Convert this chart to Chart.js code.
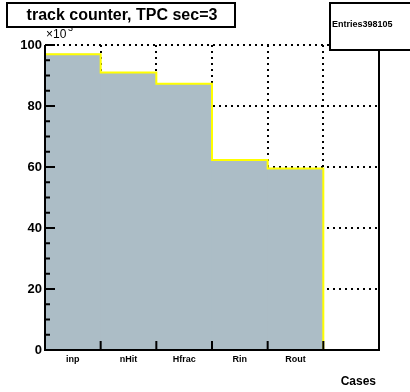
<!DOCTYPE html>
<html>
<head>
<meta charset="utf-8">
<script src="https://cdn.jsdelivr.net/npm/chart.js@4.4.1/dist/chart.umd.min.js"></script>
<style>
  body { margin: 0; background: #fff; }
  #wrap { width: 410px; height: 392px; position: relative; }
</style>
</head>
<body>
<div id="wrap"><canvas id="myChart"></canvas></div>
<script>
// 히스토그램 데이터 (단위: x10^3)
const cases = ["inp", "nHit", "Hfrac", "Rin", "Rout", ""];
const counts = [97.0, 91.0, 87.3, 62.3, 59.5, null];
const yTicks = [0, 20, 40, 60, 80, 100];
const titleText = "track counter, TPC sec=3";
const entriesText = "Entries398105";

const FONT = "'Liberation Sans', Arial, Helvetica, sans-serif";

// ROOT 스타일: 안쪽 눈금, 노란 테두리, 제목/통계 박스
const rootStyle = {
  id: "rootStyle",
  afterDatasetsDraw(chart) {
    const ctx = chart.ctx;
    const area = chart.chartArea;
    const y = chart.scales.y;
    const meta = chart.getDatasetMeta(0);

    // 노란 계단선
    ctx.save();
    ctx.strokeStyle = "#ffff00";
    ctx.lineWidth = 2;
    ctx.beginPath();
    let last = null;
    meta.data.forEach((bar, i) => {
      if (counts[i] == null) return;
      const half = bar.width / 2;
      if (!last) ctx.moveTo(bar.x - half, bar.y);
      else ctx.lineTo(bar.x - half, bar.y);
      ctx.lineTo(bar.x + half, bar.y);
      last = { r: bar.x + half, base: bar.base };
    });
    ctx.lineTo(last.r, last.base);
    ctx.stroke();

    // 프레임
    ctx.strokeStyle = "#000";
    ctx.lineWidth = 2;
    ctx.beginPath();
    ctx.moveTo(area.left, area.top);
    ctx.lineTo(area.left, area.bottom);
    ctx.lineTo(area.right, area.bottom);
    ctx.lineTo(area.right, area.top);
    ctx.stroke();

    // y 눈금 (주 20, 보조 5)
    ctx.beginPath();
    for (let v = 0; v <= 100; v += 5) {
      const py = y.getPixelForValue(v);
      const len = v % 20 === 0 ? 10 : 5;
      ctx.moveTo(area.left, py);
      ctx.lineTo(area.left + len, py);
    }
    // x 눈금 (빈 경계)
    meta.data.forEach((bar, i) => {
      if (i === 0) return;
      const bx = bar.x - bar.width / 2;
      ctx.moveTo(bx, area.bottom);
      ctx.lineTo(bx, area.bottom - 9);
    });
    ctx.stroke();
    ctx.restore();
  },
  afterDraw(chart) {
    const ctx = chart.ctx;
    const area = chart.chartArea;
    ctx.save();
    ctx.fillStyle = "#000";

    // x10^3
    ctx.font = "12px " + FONT;
    ctx.textBaseline = "middle";
    ctx.textAlign = "left";
    ctx.fillText("\u00d710", area.left + 1, 35);
    ctx.font = "9px " + FONT;
    ctx.fillText("3", area.left + 23, 29);

    // 축 제목
    ctx.font = "bold 12px " + FONT;
    ctx.textAlign = "right";
    ctx.fillText("Cases", 376, 382);

    // 제목 박스
    ctx.fillStyle = "#fff";
    ctx.fillRect(7, 3, 228, 24);
    ctx.strokeStyle = "#000";
    ctx.lineWidth = 2;
    ctx.strokeRect(7, 3, 228, 24);
    ctx.fillStyle = "#000";
    ctx.font = "bold 16px " + FONT;
    ctx.textAlign = "center";
    ctx.fillText(titleText, 122, 16);

    // 통계 박스
    ctx.fillStyle = "#fff";
    ctx.fillRect(330, 3, 90, 47);
    ctx.strokeRect(330, 3, 90, 47);
    ctx.fillStyle = "#000";
    ctx.font = "bold 9px " + FONT;
    ctx.textAlign = "left";
    ctx.fillText(entriesText, 332, 25);
    ctx.restore();
  }
};

const ctx = document.getElementById("myChart");

const data = {
  labels: cases,
  datasets: [
    {
      data: counts,
      backgroundColor: "rgb(172, 189, 198)",
      borderWidth: 0,
      categoryPercentage: 1.0,
      barPercentage: 1.0
    }
  ]
};

const options = {
  responsive: true,
  maintainAspectRatio: false,
  animation: false,
  layout: { padding: { top: 45, right: 31, left: 0, bottom: 0 } },
  plugins: { legend: { display: false }, tooltip: { enabled: false } },
  scales: {
    x: {
      offset: true,
      grid: { offset: true, color: "#000", lineWidth: 2, drawTicks: false },
      border: { display: false, dash: [2, 4] },
      ticks: { color: "#000", font: { family: FONT, size: 9, weight: "bold" }, padding: 4, maxRotation: 0 },
      afterFit: (s) => { s.height = 42; }
    },
    y: {
      min: 0,
      max: 100,
      afterBuildTicks: (s) => { s.ticks = yTicks.map((v) => ({ value: v })); },
      grid: { color: "#000", lineWidth: 2, drawTicks: false },
      border: { display: false, dash: [2, 4] },
      ticks: { color: "#000", font: { family: FONT, size: 13, weight: "bold" }, padding: 3 },
      afterFit: (s) => { s.width = 45; }
    }
  }
};

const config = { type: "bar", data: data, options: options, plugins: [rootStyle] };
let myChart = new Chart(ctx, config);
</script>
</body>
</html>
